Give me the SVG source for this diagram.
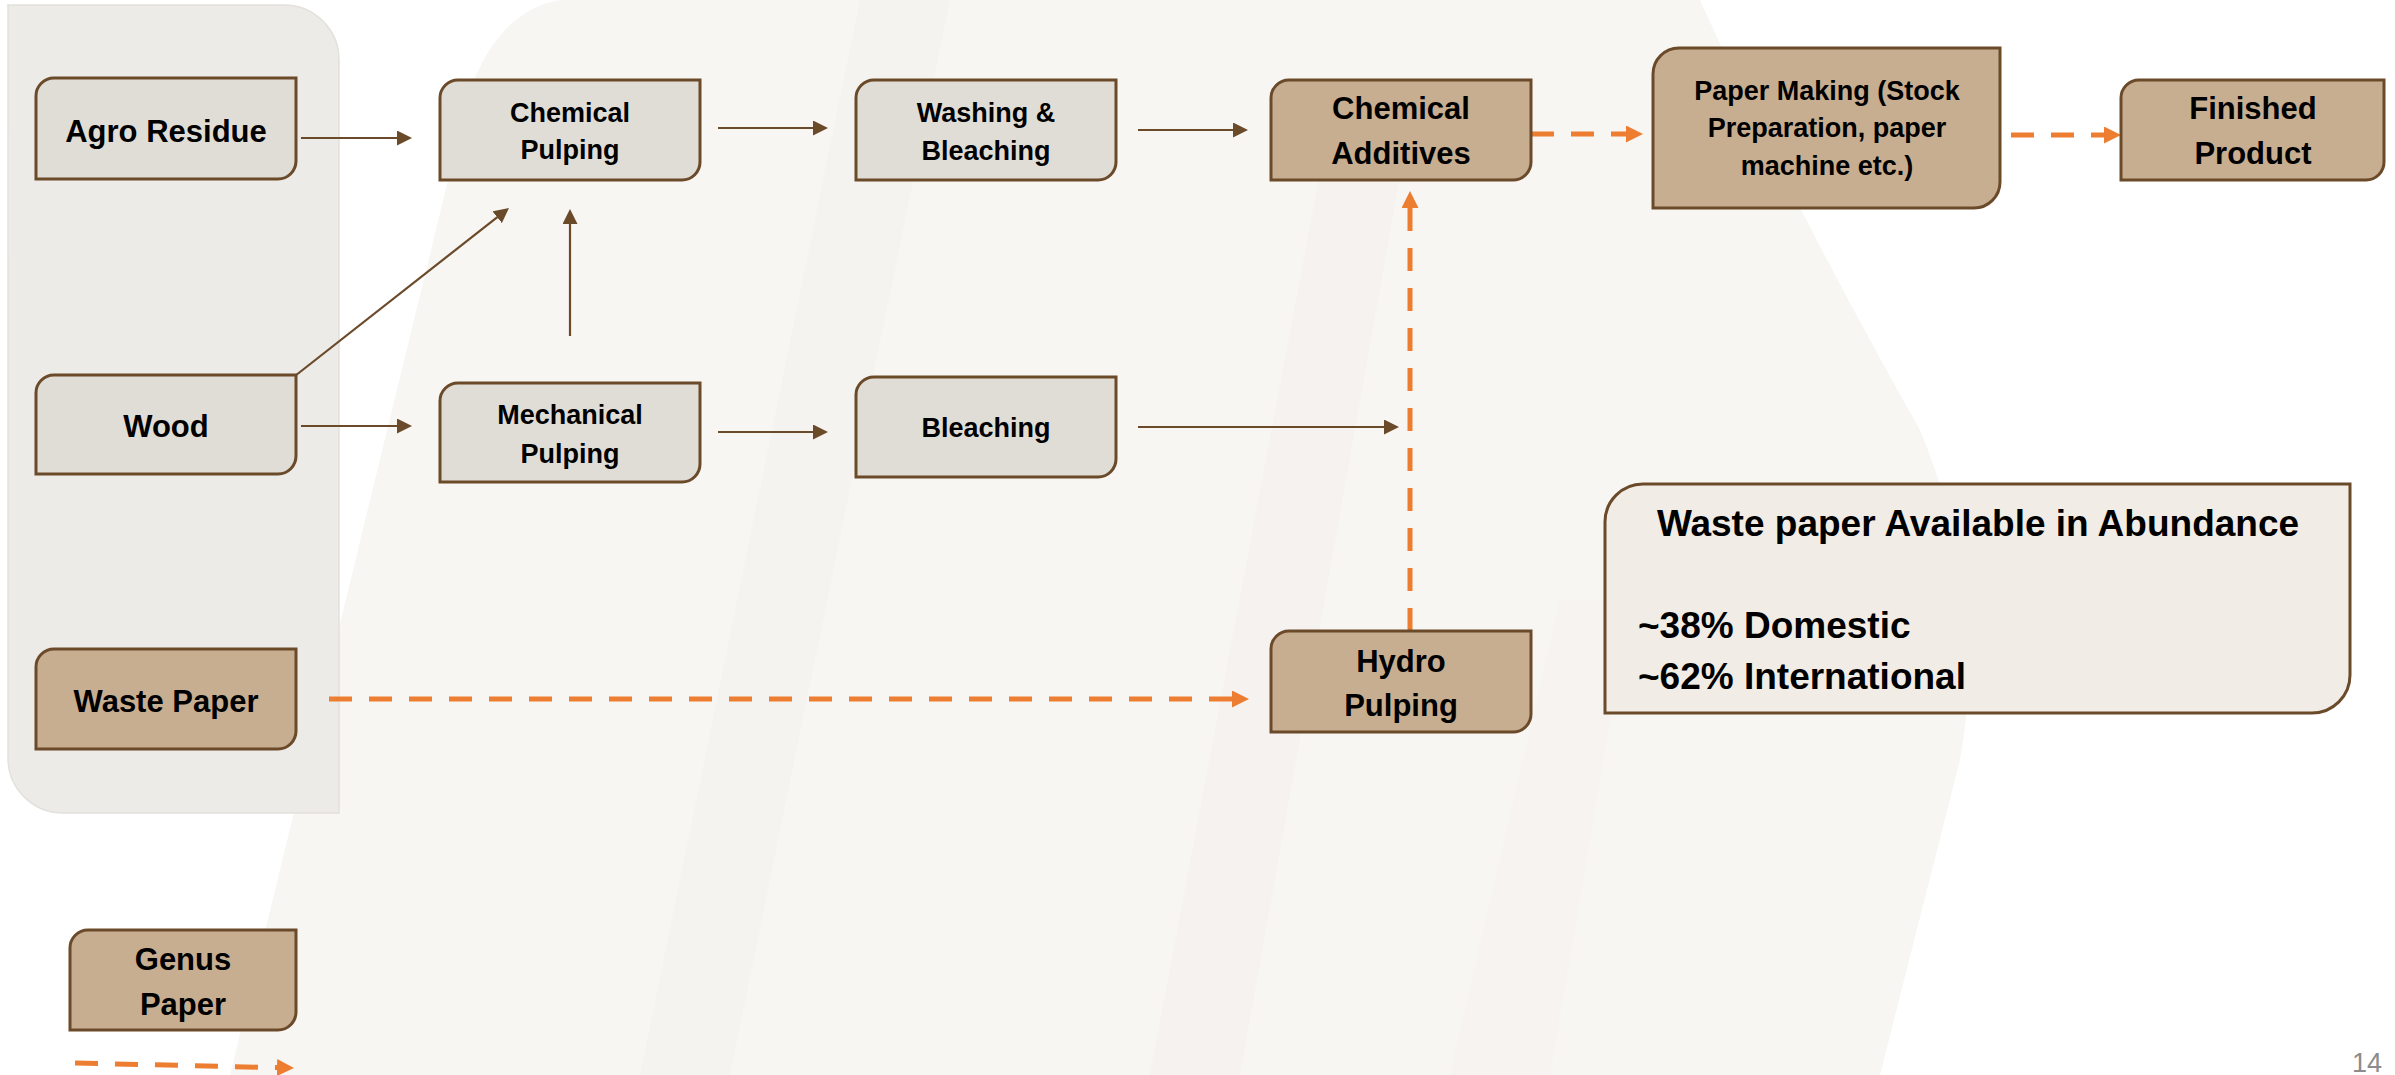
<svg xmlns="http://www.w3.org/2000/svg" width="2395" height="1075" viewBox="0 0 2395 1075">
<style>
.nl{fill:#E0DDD6;stroke:#6B4A2A;stroke-width:3}
.nt{fill:#C8AE91;stroke:#6B4A2A;stroke-width:3}
.t{font-family:"Liberation Sans",Arial,sans-serif;font-weight:bold;fill:#000;text-anchor:middle}
.s27{font-size:27px}
.s31{font-size:31px}
.b{stroke:#6B4A2A;stroke-width:2.2;fill:none;marker-end:url(#mb)}
.o{stroke:#ED7D31;stroke-width:5;fill:none;stroke-dasharray:23 17;marker-end:url(#mo)}
</style>
<defs>
<marker id="mb" viewBox="0 0 10 10" refX="5" refY="5" markerWidth="15" markerHeight="15" markerUnits="userSpaceOnUse" orient="auto"><path d="M0,0 L10,5 L0,10 Z" fill="#6B4A2A"/></marker>
<marker id="mo" viewBox="0 0 10 10" refX="5" refY="5" markerWidth="17" markerHeight="17" markerUnits="userSpaceOnUse" orient="auto"><path d="M0,0 L10,5 L0,10 Z" fill="#ED7D31"/></marker>
</defs>
<rect width="2395" height="1075" fill="#FFFFFF"/>
<g id="background">
<path d="M230,1075 L470,90 Q500,10 560,0 L1700,0 Q1790,200 1920,430 Q1990,600 1960,760 L1880,1075 Z" fill="#F8F6F3"/>
<polygon points="640,1075 860,0 950,0 730,1075" fill="#F1EFEC" opacity="0.45"/>
<polygon points="1150,1075 1330,120 1410,120 1240,1075" fill="#F0EEEB" opacity="0.4"/>
<polygon points="1450,1075 1560,600 1630,600 1550,1075" fill="#F2F0ED" opacity="0.4"/>
</g>
<g id="panel">
<path d="M8,5 H284 A55,55 0 0 1 339,60 V813 H63 A55,55 0 0 1 8,758 Z" fill="#EDEBE7" stroke="#E3E1DD" stroke-width="1.5"/>
</g>
<g id="connectors">
<line class="b" x1="301" y1="138" x2="404.5" y2="138"/>
<line class="b" x1="301" y1="426" x2="404.5" y2="426"/>
<line class="b" x1="286" y1="383" x2="503.1" y2="212.6"/>
<line class="b" x1="570" y1="336" x2="570" y2="216.5"/>
<line class="b" x1="718" y1="128" x2="820.5" y2="128"/>
<line class="b" x1="1138" y1="130" x2="1240.5" y2="130"/>
<line class="b" x1="718" y1="432" x2="820.5" y2="432"/>
<line class="b" x1="1138" y1="427" x2="1391.5" y2="427"/>
<line class="o" x1="1531" y1="134" x2="1634.5" y2="134"/>
<line class="o" x1="2011" y1="135" x2="2112.5" y2="135"/>
<line class="o" x1="1410" y1="631" x2="1410" y2="199.5"/>
<line class="o" x1="329" y1="699" x2="1240.5" y2="699"/>
<line class="o" x1="75" y1="1063" x2="285.5" y2="1067.8"/>
</g>
<g id="agro-residue">
<path class="nl" d="M54,78 H296 V161 A18,18 0 0 1 278,179 H36 V96 A18,18 0 0 1 54,78 Z"/>
<text class="t s31" x="166" y="142">Agro Residue</text>
</g>
<g id="chemical-pulping">
<path class="nl" d="M458,80 H700 V162 A18,18 0 0 1 682,180 H440 V98 A18,18 0 0 1 458,80 Z"/>
<text class="t s27" x="570" y="122">Chemical</text>
<text class="t s27" x="570" y="159">Pulping</text>
</g>
<g id="wood">
<path class="nl" d="M54,375 H296 V456 A18,18 0 0 1 278,474 H36 V393 A18,18 0 0 1 54,375 Z"/>
<text class="t s31" x="166" y="437">Wood</text>
</g>
<g id="mechanical-pulping">
<path class="nl" d="M458,383 H700 V464 A18,18 0 0 1 682,482 H440 V401 A18,18 0 0 1 458,383 Z"/>
<text class="t s27" x="570" y="424">Mechanical</text>
<text class="t s27" x="570" y="463">Pulping</text>
</g>
<g id="washing-bleaching">
<path class="nl" d="M874,80 H1116 V162 A18,18 0 0 1 1098,180 H856 V98 A18,18 0 0 1 874,80 Z"/>
<text class="t s27" x="986" y="122">Washing &amp;</text>
<text class="t s27" x="986" y="160">Bleaching</text>
</g>
<g id="bleaching">
<path class="nl" d="M874,377 H1116 V459 A18,18 0 0 1 1098,477 H856 V395 A18,18 0 0 1 874,377 Z"/>
<text class="t s27" x="986" y="437">Bleaching</text>
</g>
<g id="chemical-additives">
<path class="nt" d="M1289,80 H1531 V162 A18,18 0 0 1 1513,180 H1271 V98 A18,18 0 0 1 1289,80 Z"/>
<text class="t s31" x="1401" y="119">Chemical</text>
<text class="t s31" x="1401" y="164">Additives</text>
</g>
<g id="paper-making">
<path class="nt" d="M1679,48 H2000 V182 A26,26 0 0 1 1974,208 H1653 V74 A26,26 0 0 1 1679,48 Z"/>
<text class="t s27" x="1827" y="100">Paper Making (Stock</text>
<text class="t s27" x="1827" y="137">Preparation, paper</text>
<text class="t s27" x="1827" y="175">machine etc.)</text>
</g>
<g id="finished-product">
<path class="nt" d="M2139,80 H2384 V162 A18,18 0 0 1 2366,180 H2121 V98 A18,18 0 0 1 2139,80 Z"/>
<text class="t s31" x="2253" y="119">Finished</text>
<text class="t s31" x="2253" y="164">Product</text>
</g>
<g id="waste-paper">
<path class="nt" d="M54,649 H296 V731 A18,18 0 0 1 278,749 H36 V667 A18,18 0 0 1 54,649 Z"/>
<text class="t s31" x="166" y="712">Waste Paper</text>
</g>
<g id="hydro-pulping">
<path class="nt" d="M1289,631 H1531 V714 A18,18 0 0 1 1513,732 H1271 V649 A18,18 0 0 1 1289,631 Z"/>
<text class="t s31" x="1401" y="672">Hydro</text>
<text class="t s31" x="1401" y="716">Pulping</text>
</g>
<g id="genus-paper">
<path class="nt" d="M88,930 H296 V1012 A18,18 0 0 1 278,1030 H70 V948 A18,18 0 0 1 88,930 Z"/>
<text class="t s31" x="183" y="970">Genus</text>
<text class="t s31" x="183" y="1015">Paper</text>
</g>
<g id="info-box">
<path d="M1643,484 H2350 V675 A38,38 0 0 1 2312,713 H1605 V522 A38,38 0 0 1 1643,484 Z" fill="#F1ECE6" stroke="#6B4A2A" stroke-width="3"/>
<text class="t" x="1978" y="536" style="font-size:37px">Waste paper Available in Abundance</text>
<text class="t" x="1638" y="638" style="font-size:37px;text-anchor:start">~38% Domestic</text>
<text class="t" x="1638" y="689" style="font-size:37px;text-anchor:start">~62% International</text>
</g>
<g id="page-number">
<text x="2352" y="1072" style="font-family:'Liberation Sans',Arial,sans-serif;font-size:27px;fill:#8C8C8C">14</text>
</g>
</svg>
